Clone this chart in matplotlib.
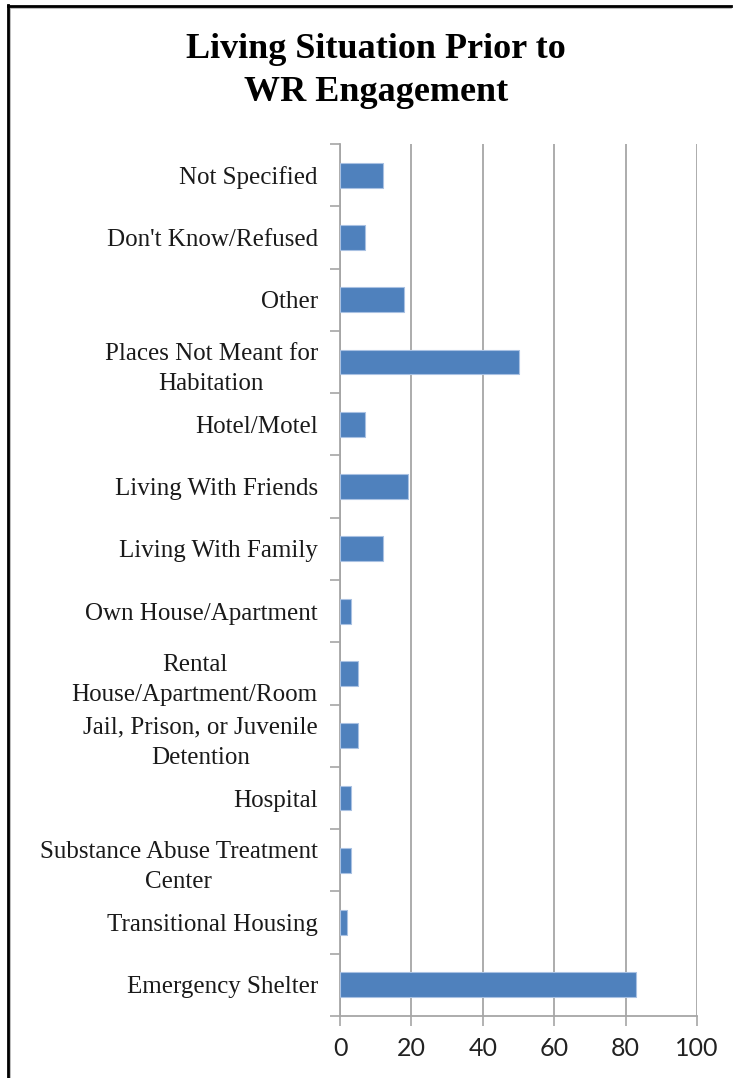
import numpy as np
import matplotlib.pyplot as plt
from matplotlib.lines import Line2D

# categories listed top to bottom as in the chart
categories = ['Not Specified', "Don't Know/Refused", 'Other',
              'Places Not Meant for\nHabitation', 'Hotel/Motel',
              'Living With Friends', 'Living With Family',
              'Own House/Apartment', 'Rental\nHouse/Apartment/Room',
              'Jail, Prison, or Juvenile\nDetention', 'Hospital',
              'Substance Abuse Treatment\nCenter', 'Transitional Housing',
              'Emergency Shelter']
counts = [12, 7, 18, 50, 7, 19, 12, 3, 5, 5, 3, 3, 2, 83]
xticks = [0, 20, 40, 60, 80, 100]

serif = ['Liberation Serif', 'DejaVu Serif']
grid_col = '#a6a6a6'

fig = plt.figure(figsize=(7.4, 10.78), dpi=100)
ax = fig.add_axes([340 / 740, 1 - 1016 / 1078, 357 / 740, 872 / 1078])

n = len(categories)
y = np.arange(n)[::-1]
ax.barh(y, counts, height=0.4, color='#4f81bd', edgecolor='#a9c1e2',
        linewidth=0.8, zorder=3)

ax.set_xlim(0, 100)
ax.set_ylim(-0.5, n - 0.5)
ax.set_xticks(xticks)
ax.set_xticklabels([str(t) for t in xticks], fontsize=18,
                   family=['Lato', 'DejaVu Sans'], color='#222222')
ax.tick_params(axis='x', length=7, width=1.2, color=grid_col, pad=8)

# boundary ticks on the category axis, labels at the centres
ax.set_yticks(np.arange(n + 1) - 0.5)
ax.set_yticklabels([])
ax.tick_params(axis='y', which='major', length=7, width=1.2, color=grid_col)
ax.set_yticks(y, minor=True)
ax.set_yticklabels(categories, minor=True, fontsize=18, family=serif,
                   multialignment='center', color='#1a1a1a', linespacing=1.5)
ax.tick_params(axis='y', which='minor', length=0, pad=16)

ax.grid(axis='x', color=grid_col, linewidth=1.3, zorder=0)
for s in ['top', 'right']:
    ax.spines[s].set_visible(False)
for s in ['left', 'bottom']:
    ax.spines[s].set_color(grid_col)
    ax.spines[s].set_linewidth(1.3)

fig.text(376 / 740, 1 - 71 / 1078, 'Living Situation Prior to\nWR Engagement',
         ha='center', va='center', fontsize=26, fontweight='bold',
         family=serif, linespacing=1.38)

# partial outer frame (left and top edges only)
fig.add_artist(Line2D([10 / 740, 10 / 740], [0, 1 - 7 / 1078],
                      transform=fig.transFigure, color='#b0b0b0', lw=1.2))
fig.add_artist(Line2D([10 / 740, 731 / 740], [1 - 7.5 / 1078, 1 - 7.5 / 1078],
                      transform=fig.transFigure, color='#b0b0b0', lw=1.2))
fig.add_artist(Line2D([8 / 740, 8 / 740], [0, 1 - 5 / 1078],
                      transform=fig.transFigure, color='black', lw=2))
fig.add_artist(Line2D([8 / 740, 731 / 740], [1 - 5.5 / 1078, 1 - 5.5 / 1078],
                      transform=fig.transFigure, color='black', lw=2))

fig.savefig('out.png', dpi=100)
